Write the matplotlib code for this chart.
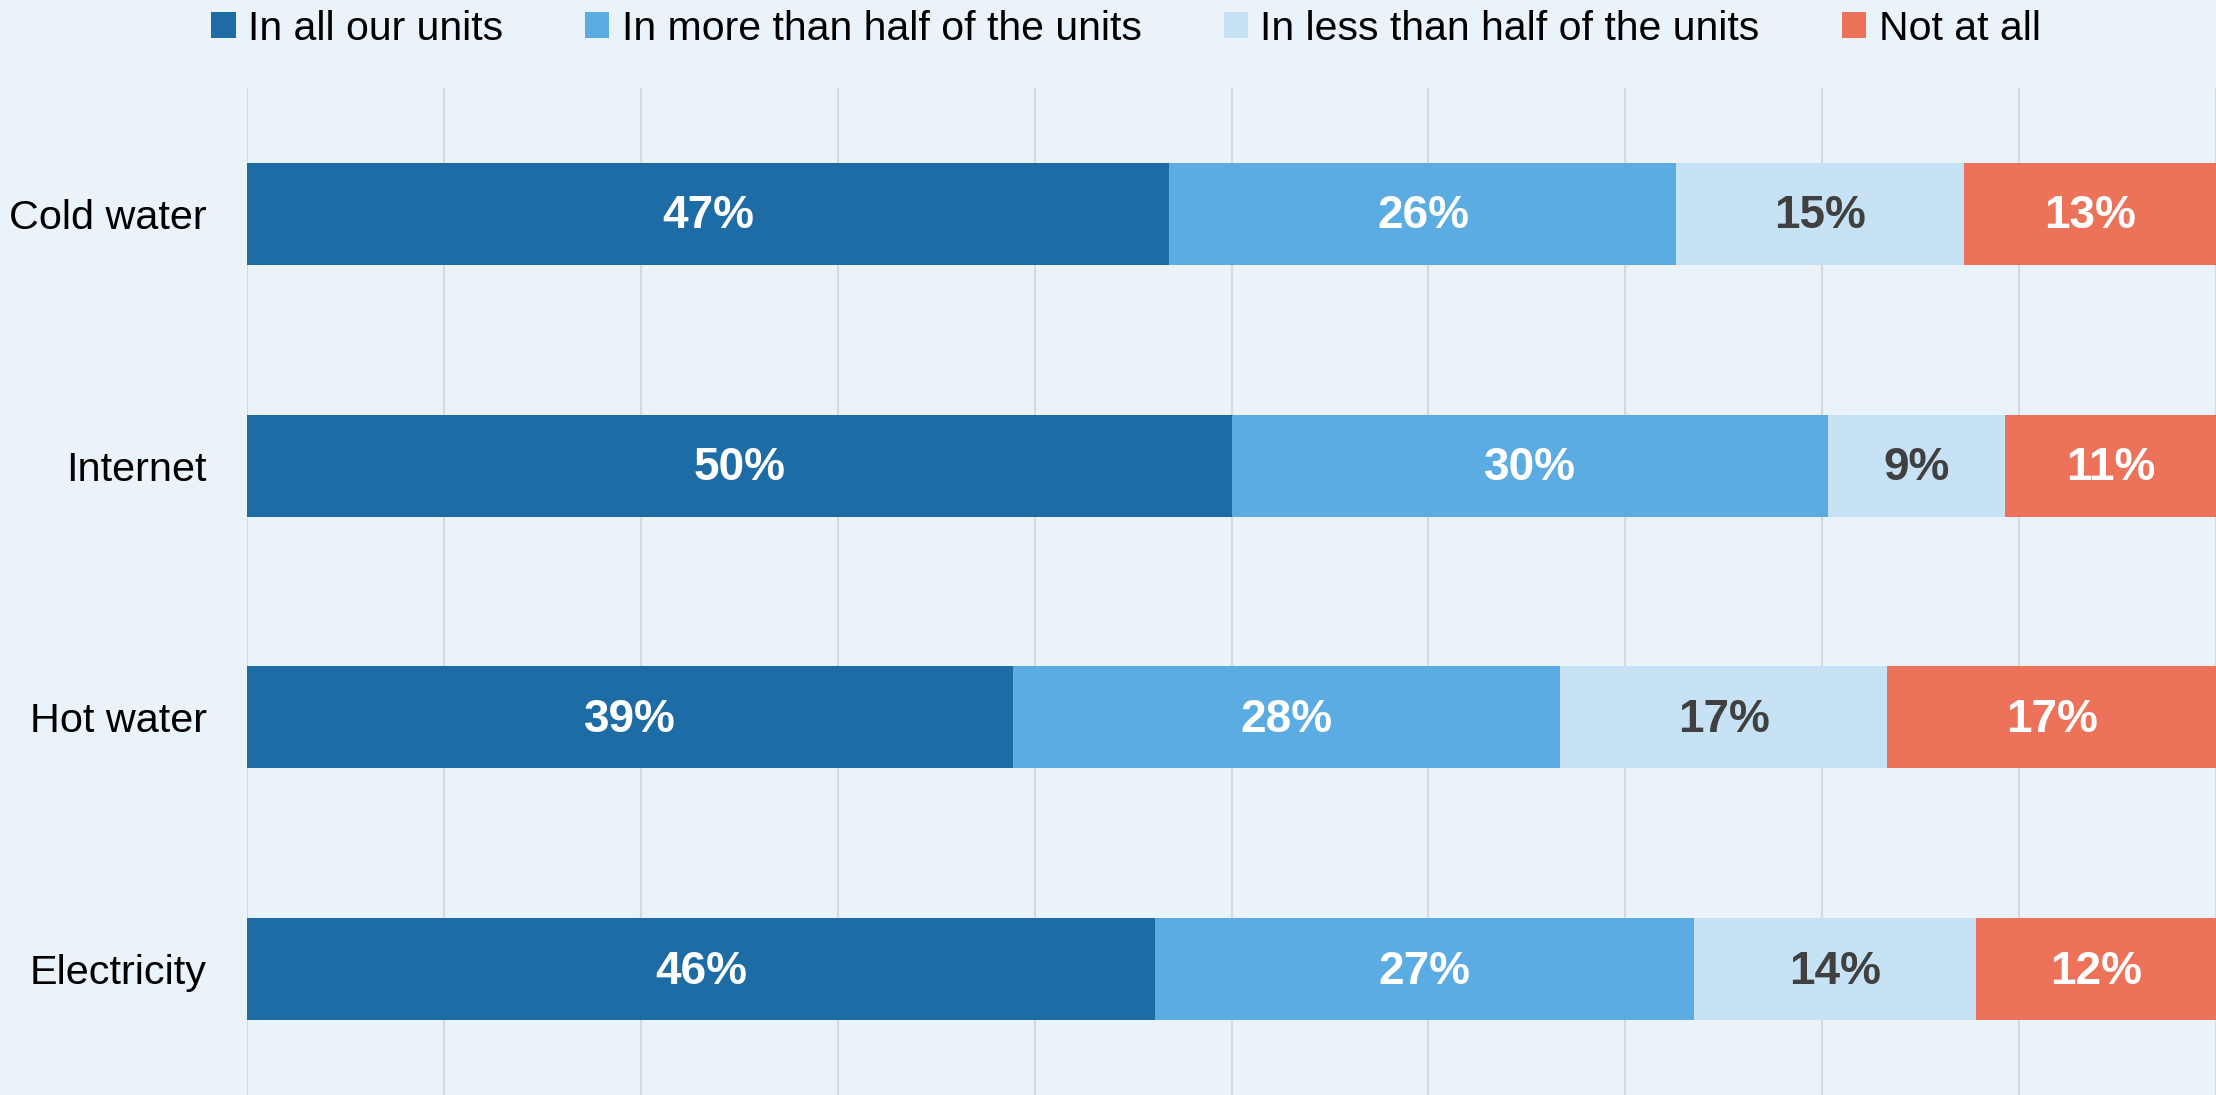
import matplotlib
matplotlib.use("Agg")
import matplotlib.pyplot as plt
import numpy as np

categories = ["Cold water", "Internet", "Hot water", "Electricity"]
series_names = ["In all our units", "In more than half of the units",
                "In less than half of the units", "Not at all"]
all_units = [46.85, 50.0, 38.9, 46.1]
more_half = [25.75, 30.3, 27.8, 27.4]
less_half = [14.6, 9.0, 16.6, 14.3]
not_at_all = [12.8, 10.7, 16.7, 12.2]

colors = ["#1D6CA5", "#5BACE3", "#C7E2F4", "#EC735A"]
text_colors = ["white", "white", "#404040", "white"]
bg = "#EAF2FA"

font = ["Liberation Sans", "DejaVu Sans"]

fig = plt.figure(figsize=(22.16, 10.95), dpi=100, facecolor=bg)
ax = fig.add_axes([247 / 2216, 0, (2216 - 247) / 2216, (1095 - 88) / 1095])
ax.set_facecolor(bg)

y = np.arange(len(categories))
left = np.zeros(len(categories))
handles = []
for vals, name, c, tc in zip([all_units, more_half, less_half, not_at_all],
                             series_names, colors, text_colors):
    bars = ax.barh(y, vals, left=left, height=0.405, color=c, label=name, zorder=2)
    handles.append(bars)
    for yi, v, l in zip(y, vals, left):
        ax.text(l + v / 2, yi + 0.01, "%.0f%%" % v, ha="center", va="center",
                color=tc, fontsize=33, fontweight="bold",
                family=font, zorder=3)
    left += np.array(vals)

ax.set_xlim(0, 100)
ax.set_ylim(3.5, -0.5)
ax.set_xticks(np.arange(0, 101, 10))
ax.set_xticklabels([])
ax.grid(axis="x", color="#D9D9D9", linewidth=1.5, zorder=0)
ax.tick_params(axis="both", length=0)
ax.tick_params(axis="y", pad=29)
ax.set_yticks(y)
ax.set_yticklabels(categories, fontsize=29.8, family=font)
for s in ax.spines.values():
    s.set_visible(False)

fig.legend(handles=handles, loc="upper center", bbox_to_anchor=(0.508, 1.025),
           ncol=4, frameon=False, prop={"family": font, "size": 29.5},
           handlelength=0.6, handleheight=0.6, handletextpad=0.3,
           columnspacing=2.0)

fig.savefig("out.png", dpi=100, facecolor=bg)
